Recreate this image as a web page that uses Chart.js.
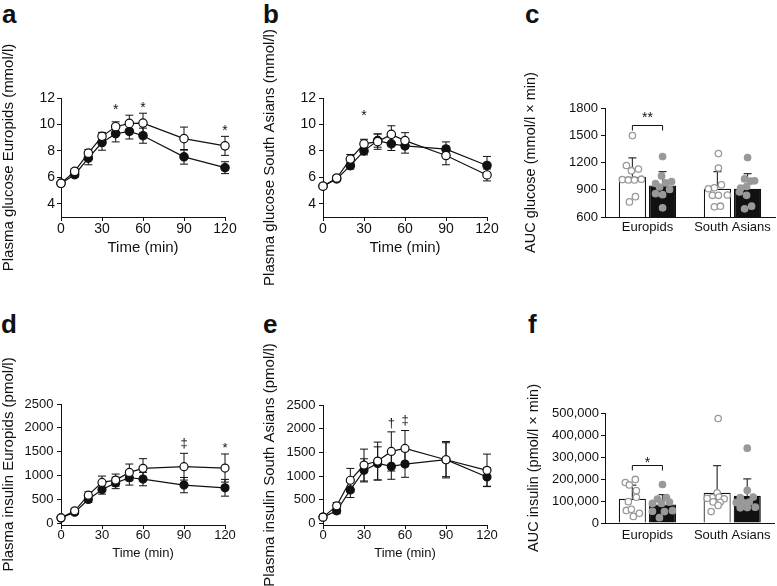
<!DOCTYPE html>
<html>
<head>
<meta charset="utf-8">
<script src="https://cdn.jsdelivr.net/npm/chart.js@4.4.1/dist/chart.umd.min.js"></script>
<style>
  body { margin: 0; width: 777px; height: 586px; position: relative; background: #fff; overflow: hidden; }
  canvas { position: absolute; }
  .tag { position: absolute; font: bold 26px/26px "Liberation Sans", Arial, sans-serif; color: #111; }
</style>
</head>
<body>
<div class="tag" style="left:2px;top:1px">a</div>
<div class="tag" style="left:263px;top:1px">b</div>
<div class="tag" style="left:525px;top:1px">c</div>
<div class="tag" style="left:1px;top:311px">d</div>
<div class="tag" style="left:263px;top:311px">e</div>
<div class="tag" style="left:528px;top:311px">f</div>

<canvas id="panelA" width="258" height="290" style="left:0;top:0"></canvas>
<canvas id="panelB" width="258" height="290" style="left:260px;top:0"></canvas>
<canvas id="panelC" width="257" height="290" style="left:520px;top:0"></canvas>
<canvas id="panelD" width="258" height="296" style="left:0;top:290px"></canvas>
<canvas id="panelE" width="258" height="296" style="left:260px;top:290px"></canvas>
<canvas id="panelF" width="257" height="296" style="left:520px;top:290px"></canvas>

<script>
// ---------------- values ----------------
const times = [0, 10, 20, 30, 40, 50, 60, 90, 120];
const timeTicks = [0, 30, 60, 90, 120];
const glucoseTicks = [4, 6, 8, 10, 12];
const insulinTicks = [0, 500, 1000, 1500, 2000, 2500];
const aucGlucoseTicks = [600, 900, 1200, 1500, 1800];
const aucInsulinTicks = [0, 100000, 200000, 300000, 400000, 500000];
const groups = ['Europids', 'South Asians'];

// a - plasma glucose, Europids (mmol/l)
const gluEuOpen = [5.55, 6.45, 7.83, 9.1, 9.83, 10.08, 10.1, 8.93, 8.38];
const gluEuOpenSd = [0.1, 0.2, 0.27, 0.3, 0.37, 0.62, 0.75, 0.87, 0.72];
const gluEuFilled = [5.55, 6.2, 7.45, 8.63, 9.3, 9.48, 9.15, 7.55, 6.73];
const gluEuFilledSd = [0.1, 0.2, 0.5, 0.58, 0.62, 0.58, 0.57, 0.55, 0.45];
const gluEuSigTimes = [40, 60, 120];
const gluEuSigLevels = [11.3, 11.5, 9.7];
const gluEuSigMarks = ['*', '*', '*'];

// b - plasma glucose, South Asians (mmol/l)
const gluSaOpen = [5.33, 5.95, 7.38, 8.53, 8.7, 9.25, 8.78, 7.65, 6.18];
const gluSaOpenSd = [0.1, 0.15, 0.35, 0.35, 0.58, 0.65, 0.6, 0.7, 0.45];
const gluSaFilled = [5.33, 5.88, 6.88, 8.0, 8.78, 8.53, 8.38, 8.13, 6.9];
const gluSaFilledSd = [0.1, 0.12, 0.25, 0.3, 0.5, 0.5, 0.55, 0.55, 0.68];
const gluSaSigTimes = [30];
const gluSaSigLevels = [10.9];
const gluSaSigMarks = ['*'];

// d - plasma insulin, Europids (pmol/l)
const insEuOpen = [119, 266, 594, 860, 909, 1070, 1154, 1189, 1161];
const insEuOpenSd = [30, 50, 70, 133, 126, 175, 203, 280, 294];
const insEuFilled = [119, 238, 503, 713, 850, 958, 930, 804, 748];
const insEuFilledSd = [30, 40, 60, 98, 120, 154, 140, 160, 175];
const insEuSigTimes = [90, 120];
const insEuSigLevels = [1678, 1629];
const insEuSigMarks = ['\u2021', '*'];

// e - plasma insulin, South Asians (pmol/l)
const insSaOpen = [136, 374, 913, 1234, 1318, 1521, 1584, 1346, 1122];
const insSaOpenSd = [40, 70, 250, 336, 400, 413, 378, 357, 343];
const insSaFilled = [136, 269, 710, 1122, 1269, 1206, 1255, 1346, 983];
const insSaFilledSd = [40, 60, 161, 244, 349, 272, 279, 384, 196];
const insSaSigTimes = [50, 60];
const insSaSigLevels = [2108, 2178];
const insSaSigMarks = ['\u2020', '\u2021'];

// c - AUC glucose (mean, sd per group, then individual subjects)
const aucGluOpen = [1041, 911];
const aucGluOpenSd = [209, 188];
const aucGluFilled = [947, 911];
const aucGluFilledSd = [152, 166];
const aucGluOpenEu = [1496, 1167, 1110, 1128, 1012, 1008, 1008, 1016, 824, 766];
const aucGluOpenSa = [1298, 1139, 911, 922, 954, 839, 839, 842, 712, 719];
const aucGluFilledEu = [1265, 1052, 969, 976, 990, 857, 846, 904, 701, 930];
const aucGluFilledSa = [1254, 1019, 994, 998, 918, 936, 875, 839, 719, 690];

// f - AUC insulin
const aucInsOpen = [110000, 137000];
const aucInsOpenSd = [62000, 124000];
const aucInsFilled = [84000, 124000];
const aucInsFilledSd = [45000, 77000];
const aucInsOpenEu = [184000, 173000, 198000, 147000, 117000, 97000, 57000, 30000, 44000, 62000];
const aucInsOpenSa = [475000, 137000, 116000, 118000, 110000, 96000, 94000, 80000, 52000, 112000];
const aucInsFilledEu = [175000, 109000, 115000, 89000, 95000, 89000, 53000, 52000, 56000, 24000];
const aucInsFilledSa = [340000, 148000, 115000, 118000, 93000, 93000, 95000, 69000, 70000, 72000];

// horizontal scatter of the dots round each bar centre, px (layout only)
const jitGluOpen = [[0, -6, -1, 6, -10, -4, 2, 9, 3, -3], [1, 1, -9, -3, 4, -5, 1, 10, -3, 3]];
const jitGluFilled = [[0, -1, -7, 3, 9, -7, 0, 7, 0, -3], [0, -3, 3, 7, -7, -1, -8, -1, 4, -3]];
const jitInsOpen = [[-7, -3, 3, 4, 4, -4, -6, 1, 7, -1], [1, 0, -5, 2, 7, -4, 3, 1, -6, -10]];
const jitInsFilled = [[0, -5, 4, -10, 7, -1, -10, 2, 10, -3], [0, 0, -7, 6, -11, -4, 2, -7, 0, 8]];

// ---------------- drawing ----------------
const INK = '#111';
const GREY = '#999';
const FAMILY = '"Liberation Sans", Arial, sans-serif';
Chart.defaults.font.family = FAMILY;
Chart.defaults.color = INK;

function fnt(size, lh) { return { size: size, lineHeight: lh || 1.2 }; }

function drawMark(ctx, text, x, y, size) {
  ctx.font = size + 'px ' + FAMILY;
  ctx.textAlign = 'center';
  ctx.textBaseline = 'alphabetic';
  const m = ctx.measureText(text);
  ctx.fillText(text, x, y + (m.actualBoundingBoxAscent - m.actualBoundingBoxDescent) / 2);
}

const lineErrors = {
  id: 'lineErrors',
  beforeDatasetsDraw(chart) {
    const ctx = chart.ctx, ys = chart.scales.y;
    ctx.save();
    ctx.strokeStyle = INK;
    ctx.lineWidth = 1;
    chart.data.datasets.forEach((ds, di) => {
      chart.getDatasetMeta(di).data.forEach((pt, i) => {
        const v = ds.data[i].y, e = ds.sd[i];
        const lo = ys.getPixelForValue(v - e), hi = ys.getPixelForValue(v + e);
        ctx.beginPath();
        ctx.moveTo(pt.x, lo); ctx.lineTo(pt.x, hi);
        ctx.moveTo(pt.x - 4, lo); ctx.lineTo(pt.x + 4, lo);
        ctx.moveTo(pt.x - 4, hi); ctx.lineTo(pt.x + 4, hi);
        ctx.stroke();
      });
    });
    ctx.restore();
  }
};

const sigMarks = {
  id: 'sigMarks',
  afterDatasetsDraw(chart, args, o) {
    const ctx = chart.ctx;
    ctx.save();
    ctx.fillStyle = INK;
    o.times.forEach((t, i) => {
      drawMark(ctx, o.marks[i], chart.scales.x.getPixelForValue(t), chart.scales.y.getPixelForValue(o.levels[i]), o.size);
    });
    ctx.restore();
  }
};

function timeCourse(id, p) {
  const cv = document.getElementById(id);
  const pts = ys => times.map((t, i) => ({ x: t, y: ys[i] }));
  const common = {
    borderColor: INK, backgroundColor: INK, borderWidth: 1.2, pointBorderColor: INK,
    pointBorderWidth: 1.2, pointRadius: p.r, tension: 0, clip: false
  };
  new Chart(cv, {
    type: 'line',
    data: {
      datasets: [
        Object.assign({ data: pts(p.filled), sd: p.filledSd, pointBackgroundColor: INK, order: 1 }, common),
        Object.assign({ data: pts(p.open), sd: p.openSd, pointBackgroundColor: '#fff', order: 0 }, common)
      ]
    },
    options: {
      responsive: false,
      animation: false,
      events: [],
      layout: { padding: { left: 0, top: p.box[1], right: cv.width - p.box[2], bottom: cv.height - p.box[3] - p.xH } },
      plugins: { colors: { enabled: false }, legend: { display: false }, tooltip: { enabled: false }, sigMarks: p.sig },
      scales: {
        x: {
          type: 'linear', min: 0, max: 120,
          afterBuildTicks: s => { s.ticks = timeTicks.map(v => ({ value: v })); },
          afterFit: s => { s.height = p.xH; },
          ticks: { font: fnt(p.tick, 1), color: INK, padding: p.xPad, maxRotation: 0, callback: v => String(v) },
          grid: { drawOnChartArea: false, tickLength: 4, color: INK },
          border: { color: INK, width: 1 },
          title: { display: true, text: 'Time (min)', font: fnt(p.xTitle), color: INK, padding: 0 }
        },
        y: {
          min: p.yMin, max: p.yMax,
          afterBuildTicks: s => { s.ticks = p.yTicks.map(v => ({ value: v })); },
          afterFit: s => { s.width = p.box[0]; },
          ticks: { font: fnt(p.tick, 1), color: INK, padding: p.yPad, callback: v => String(v) },
          grid: { drawOnChartArea: false, tickLength: 4, color: INK },
          border: { color: INK, width: 1 },
          title: { display: true, text: p.yTitle, font: fnt(15), color: INK, padding: { top: p.titlePad, bottom: 0 } }
        }
      }
    },
    plugins: [lineErrors, sigMarks]
  });
}

const barErrors = {
  id: 'barErrors',
  afterDatasetDraw(chart, args) {
    const ds = chart.data.datasets[args.index];
    if (!ds.sd) return;
    const ctx = chart.ctx, ys = chart.scales.y;
    ctx.save();
    ctx.strokeStyle = '#333';
    ctx.lineWidth = 1.2;
    args.meta.data.forEach((bar, i) => {
      const top = ys.getPixelForValue(ds.data[i] + ds.sd[i]);
      ctx.beginPath();
      ctx.moveTo(bar.x, bar.y); ctx.lineTo(bar.x, top);
      ctx.moveTo(bar.x - 4, top); ctx.lineTo(bar.x + 4, top);
      ctx.stroke();
    });
    ctx.restore();
  }
};

// individual subjects, placed round the centre of their bar
const subjectDots = {
  id: 'subjectDots',
  afterDatasetsDraw(chart, args, o) {
    const ctx = chart.ctx, ys = chart.scales.y;
    ctx.save();
    o.sets.forEach(set => {
      const bars = chart.getDatasetMeta(set.bar).data;
      set.values.forEach((vals, g) => {
        vals.forEach((v, k) => {
          ctx.beginPath();
          ctx.arc(bars[g].x + set.jit[g][k], ys.getPixelForValue(v), 3.2, 0, Math.PI * 2);
          ctx.fillStyle = set.fill;
          ctx.fill();
          ctx.lineWidth = 1.3;
          ctx.strokeStyle = GREY;
          ctx.stroke();
        });
      });
    });
    ctx.restore();
  }
};

const bracket = {
  id: 'bracket',
  afterDatasetsDraw(chart, args, o) {
    const ctx = chart.ctx, ys = chart.scales.y;
    const x1 = chart.getDatasetMeta(0).data[0].x, x2 = chart.getDatasetMeta(1).data[0].x;
    const y = Math.round(ys.getPixelForValue(o.level)) + 0.5;
    ctx.save();
    ctx.strokeStyle = INK;
    ctx.lineWidth = 1;
    ctx.beginPath();
    ctx.moveTo(x1, y + 5); ctx.lineTo(x1, y); ctx.lineTo(x2, y); ctx.lineTo(x2, y + 5);
    ctx.stroke();
    ctx.fillStyle = INK;
    drawMark(ctx, o.text, (x1 + x2) / 2, ys.getPixelForValue(o.textLevel), o.size);
    ctx.restore();
  }
};

const CAT = 0.71, BAR = 0.9;

function aucPanel(id, p) {
  const cv = document.getElementById(id);
  new Chart(cv, {
    type: 'bar',
    data: {
      labels: groups,
      datasets: [
        { data: p.openMean, sd: p.openSd, backgroundColor: '#fff', borderColor: INK, borderWidth: 1.2, categoryPercentage: CAT, barPercentage: BAR },
        { data: p.filledMean, sd: p.filledSd, backgroundColor: INK, borderColor: INK, borderWidth: 1.2, categoryPercentage: CAT, barPercentage: BAR }
      ]
    },
    options: {
      responsive: false,
      animation: false,
      events: [],
      layout: { padding: { left: 0, top: p.box[1], right: cv.width - p.box[2], bottom: cv.height - p.box[3] - p.xH } },
      plugins: {
        colors: { enabled: false }, legend: { display: false }, tooltip: { enabled: false },
        subjectDots: { sets: [
          { bar: 0, values: p.openDots, jit: p.openJit, fill: '#fff' },
          { bar: 1, values: p.filledDots, jit: p.filledJit, fill: GREY }
        ] },
        bracket: p.bracket
      },
      scales: {
        x: {
          type: 'category', offset: true,
          afterFit: s => { s.height = p.xH; },
          ticks: { font: fnt(13, 1), color: INK, padding: p.xPad, maxRotation: 0, autoSkip: false },
          grid: { display: false, drawTicks: false },
          border: { color: INK, width: 1 }
        },
        y: {
          min: p.yMin, max: p.yMax,
          afterBuildTicks: s => { s.ticks = p.yTicks.map(v => ({ value: v })); },
          afterFit: s => { s.width = p.box[0]; },
          ticks: { font: fnt(p.tick, 1), color: INK, padding: p.yPad, callback: p.fmt },
          grid: { drawOnChartArea: false, tickLength: 4, color: INK },
          border: { color: INK, width: 1 },
          title: { display: true, text: p.yTitle, font: fnt(14.5), color: INK, padding: { top: p.titlePad, bottom: 0 } }
        }
      }
    },
    plugins: [barErrors, subjectDots, bracket]
  });
}

// box = [left, top, right, bottom] of the plot area inside each canvas
timeCourse('panelA', {
  open: gluEuOpen, openSd: gluEuOpenSd, filled: gluEuFilled, filledSd: gluEuFilledSd,
  yMin: 3, yMax: 12, yTicks: glucoseTicks, yTitle: 'Plasma glucose Europids (mmol/l)',
  box: [61, 98, 225, 217], xH: 40, tick: 14, xTitle: 15, xPad: 1, yPad: 2, titlePad: 0, r: 4.2,
  sig: { times: gluEuSigTimes, levels: gluEuSigLevels, marks: gluEuSigMarks, size: 14 }
});
timeCourse('panelB', {
  open: gluSaOpen, openSd: gluSaOpenSd, filled: gluSaFilled, filledSd: gluSaFilledSd,
  yMin: 3, yMax: 12, yTicks: glucoseTicks, yTitle: 'Plasma glucose South Asians (mmol/l)',
  box: [63, 98, 227, 217], xH: 40, tick: 14, xTitle: 15, xPad: 1, yPad: 3, titlePad: 1, r: 4.2,
  sig: { times: gluSaSigTimes, levels: gluSaSigLevels, marks: gluSaSigMarks, size: 14 }
});
timeCourse('panelD', {
  open: insEuOpen, openSd: insEuOpenSd, filled: insEuFilled, filledSd: insEuFilledSd,
  yMin: -30, yMax: 2500, yTicks: insulinTicks, yTitle: 'Plasma insulin Europids (pmol/l)',
  box: [61, 114, 225, 235], xH: 36, tick: 13, xTitle: 13, xPad: 0, yPad: 3.5, titlePad: 0, r: 4,
  sig: { times: insEuSigTimes, levels: insEuSigLevels, marks: insEuSigMarks, size: 13 }
});
timeCourse('panelE', {
  open: insSaOpen, openSd: insSaOpenSd, filled: insSaFilled, filledSd: insSaFilledSd,
  yMin: -30, yMax: 2500, yTicks: insulinTicks, yTitle: 'Plasma insulin South Asians (pmol/l)',
  box: [63, 115, 227, 235], xH: 36, tick: 13, xTitle: 13, xPad: 0, yPad: 3.5, titlePad: 1, r: 4,
  sig: { times: insSaSigTimes, levels: insSaSigLevels, marks: insSaSigMarks, size: 13 }
});
aucPanel('panelC', {
  openMean: aucGluOpen, openSd: aucGluOpenSd, filledMean: aucGluFilled, filledSd: aucGluFilledSd,
  openDots: [aucGluOpenEu, aucGluOpenSa], filledDots: [aucGluFilledEu, aucGluFilledSa],
  openJit: jitGluOpen, filledJit: jitGluFilled,
  yMin: 600, yMax: 1800, yTicks: aucGlucoseTicks, yTitle: 'AUC glucose (mmol/l \u00d7 min)',
  box: [85, 108, 255, 217], xH: 30, tick: 13, xPad: 4, yPad: 3, titlePad: 2, fmt: v => String(v),
  bracket: { level: 1610, textLevel: 1728, text: '**', size: 14 }
});
aucPanel('panelF', {
  openMean: aucInsOpen, openSd: aucInsOpenSd, filledMean: aucInsFilled, filledSd: aucInsFilledSd,
  openDots: [aucInsOpenEu, aucInsOpenSa], filledDots: [aucInsFilledEu, aucInsFilledSa],
  openJit: jitInsOpen, filledJit: jitInsFilled,
  yMin: 0, yMax: 500000, yTicks: aucInsulinTicks, yTitle: 'AUC insulin (pmol/l \u00d7 min)',
  box: [85, 123, 255, 233], xH: 30, tick: 13, xPad: 6, yPad: 2, titlePad: 5, fmt: v => v.toLocaleString('en-US'),
  bracket: { level: 262000, textLevel: 286000, text: '*', size: 14 }
});
</script>
</body>
</html>
